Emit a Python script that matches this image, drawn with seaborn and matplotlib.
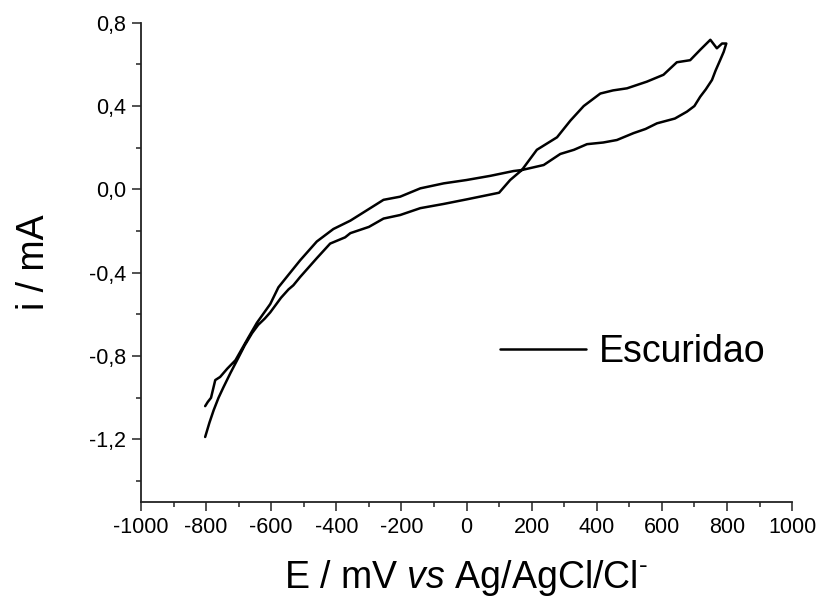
import matplotlib
matplotlib.use("Agg")
import matplotlib.pyplot as plt
import seaborn as sns
import pandas as pd
import numpy as np

# Forward scan (-800 -> 800 mV)
E_fwd = [-803, -790, -777, -762, -747, -725, -705, -682, -659, -640, -620, -603,
         -570, -547, -532, -511, -460, -419, -373, -357, -300, -255, -204, -142,
         -71, 0, 50, 100, 134, 170, 216, 278, 319, 360, 411, 450, 493, 554, 605,
         646, 687, 718, 749, 769, 785, 798]
i_fwd = [-1.188, -1.12, -1.06, -1.00, -0.95, -0.88, -0.82, -0.75, -0.69, -0.65,
         -0.62, -0.59, -0.52, -0.48, -0.46, -0.42, -0.33, -0.26, -0.23, -0.21,
         -0.18, -0.14, -0.123, -0.09, -0.07, -0.048, -0.032, -0.016, 0.045, 0.093,
         0.19, 0.25, 0.33, 0.40, 0.46, 0.475, 0.485, 0.517, 0.55, 0.61, 0.62, 0.67,
         0.718, 0.677, 0.70, 0.70]
# Reverse scan (800 -> -800 mV)
E_rev = [798, 790, 779, 765, 754, 735, 718, 700, 677, 640, 585, 550, 513, 462,
         420, 370, 330, 288, 237, 170, 144, 73, 0, -70, -142, -204, -255, -306,
         -357, -409, -460, -511, -542, -578, -603, -644, -670, -710, -735, -757,
         -772, -785, -795, -803]
i_rev = [0.70, 0.66, 0.62, 0.57, 0.525, 0.48, 0.445, 0.40, 0.373, 0.34, 0.317,
         0.29, 0.27, 0.237, 0.225, 0.217, 0.19, 0.17, 0.117, 0.093, 0.088, 0.065,
         0.045, 0.029, 0.005, -0.035, -0.05, -0.10, -0.15, -0.19, -0.25, -0.34,
         -0.40, -0.47, -0.55, -0.64, -0.71, -0.82, -0.86, -0.90, -0.915, -1.00,
         -1.02, -1.04]

x_ticks = [-1000, -800, -600, -400, -200, 0, 200, 400, 600, 800, 1000]
x_ticklabels = ["-1000", "-800", "-600", "-400", "-200", "0", "200", "400", "600", "800", "1000"]
y_ticks = [-1.2, -0.8, -0.4, 0.0, 0.4, 0.8]
y_ticklabels = ["-1,2", "-0,8", "-0,4", "0,0", "0,4", "0,8"]
series_label = "Escuridao"

sns.set_theme(style="ticks")
plt.rcParams['font.family'] = ['Liberation Sans', 'DejaVu Sans']
plt.rcParams['mathtext.fontset'] = 'custom'
plt.rcParams['mathtext.rm'] = 'Liberation Sans'
plt.rcParams['mathtext.it'] = 'Liberation Sans:italic'
plt.rcParams['text.color'] = 'black'
plt.rcParams['axes.labelcolor'] = 'black'

df = pd.DataFrame({"E": E_fwd + E_rev, "i": i_fwd + i_rev})

fig = plt.figure(figsize=(8.19, 6.03), dpi=100)
ax = fig.add_axes([0.1722, 0.1675, 0.7949, 0.7949])
sns.lineplot(data=df, x="E", y="i", sort=False, estimator=None, color="black",
             linewidth=1.8, ax=ax, label=series_label)

ax.set_xlim(-1000, 1000)
ax.set_ylim(-1.5, 0.8)
ax.set_xticks(x_ticks)
ax.set_xticklabels(x_ticklabels)
ax.set_yticks(y_ticks)
ax.set_yticklabels(y_ticklabels)
ax.set_xticks(np.arange(-900, 1000, 200), minor=True)
ax.set_yticks([-1.4, -1.0, -0.6, -0.2, 0.2, 0.6], minor=True)
ax.tick_params(axis="both", which="major", direction="out", length=6.5, width=1.1,
               labelsize=15.5, pad=4, color="#222222", labelcolor="black")
ax.tick_params(axis="both", which="minor", direction="out", length=3.6, width=1.1,
               color="#222222")
for s in ["top", "right"]:
    ax.spines[s].set_visible(False)
for s in ["left", "bottom"]:
    ax.spines[s].set_linewidth(1.3)
    ax.spines[s].set_color("#222222")

ax.set_xlabel(r"E / mV $\mathit{vs}$ Ag/AgCl/Cl$^{\mathregular{\text{-}}}$", fontsize=27,
              labelpad=15)
ax.set_ylabel("i / mA", fontsize=27, labelpad=27)

leg = ax.legend(loc="center left", bbox_to_anchor=(0.6105, 0.4163),
                bbox_transform=fig.transFigure, frameon=False, fontsize=27,
                handlelength=2.3, handletextpad=0.35, borderpad=0, borderaxespad=0)
for line in leg.get_lines():
    line.set_linewidth(1.8)
for t in leg.get_texts():
    t.set_color("black")

fig.savefig("out.png", dpi=100)
